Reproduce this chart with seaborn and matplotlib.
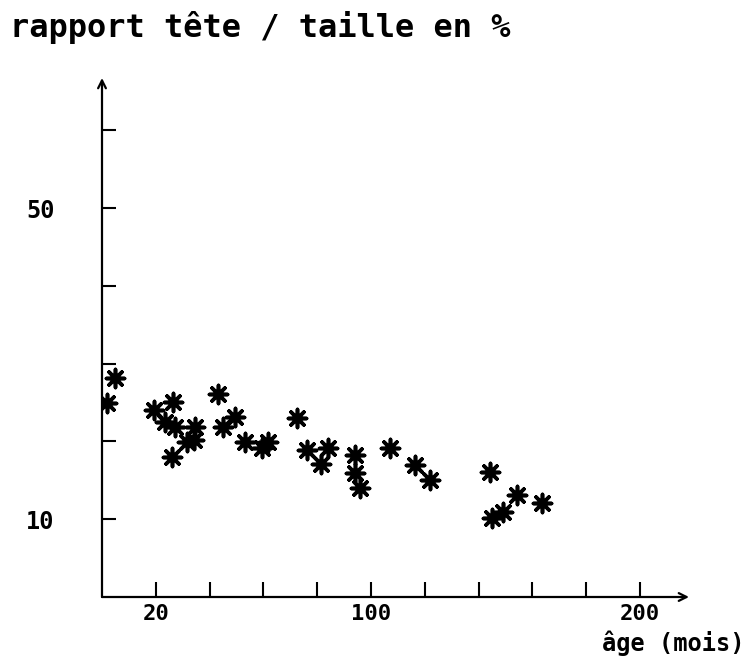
import matplotlib
matplotlib.use("Agg")
import matplotlib.pyplot as plt
import seaborn as sns
import pandas as pd

# age in months vs head/height ratio in percent
age_mois = [1.9, 4.8, 19.3, 26.4, 23.4, 27.1, 34.6, 31.6, 34.2, 26.0,
            43.1, 45.0, 49.4, 53.2, 59.5, 61.7, 72.5, 76.2, 84.0, 81.4,
            94.1, 94.1, 95.9, 107.1, 116.4, 121.9, 144.2, 154.3, 163.6,
            145.0, 149.1]
rapport = [24.9, 28.1, 24.0, 25.1, 22.5, 21.9, 21.9, 19.9, 20.2, 18.0,
           26.1, 21.9, 23.1, 19.9, 19.2, 19.9, 23.0, 18.9, 19.2, 17.1,
           18.3, 15.9, 14.0, 19.2, 17.0, 15.0, 16.1, 13.1, 12.1,
           10.2, 10.9]

x_ticks = list(range(20, 201, 20))
x_labels = ["20", "", "", "", "100", "", "", "", "", "200"]
y_ticks = [10, 20, 30, 40, 50, 60]
y_labels = ["10", "", "", "", "50", ""]

df = pd.DataFrame({"age": age_mois, "rapport": rapport})

sns.set_style("white")
mono = "DejaVu Sans Mono"
plt.rcParams["font.family"] = [mono, "DejaVu Sans"]
plt.rcParams["font.weight"] = "bold"
plt.rcParams["text.color"] = "black"
plt.rcParams["xtick.color"] = "black"
plt.rcParams["ytick.color"] = "black"

fig = plt.figure(figsize=(7.49, 6.6), dpi=100)
ax = fig.add_axes([102 / 749, 63 / 660, 587 / 749, 519 / 660])

# asterisk markers with a solid centre
sns.scatterplot(data=df, x="age", y="rapport", ax=ax, marker=(8, 2, 0),
                s=170, color="black", linewidth=2.6, zorder=3, legend=False)
sns.scatterplot(data=df, x="age", y="rapport", ax=ax, marker="o",
                s=45, color="black", linewidth=0, zorder=3, legend=False)

ax.set_xlim(0, 587 / 2.69)
ax.set_ylim(0, 519 / 7.78)

for s in ax.spines.values():
    s.set_visible(False)

# axes drawn as arrows
ax.annotate("", xy=(1, 0), xytext=(0, 0), xycoords="axes fraction",
            arrowprops=dict(arrowstyle="->", lw=1.6, color="black",
                            mutation_scale=14, shrinkA=0, shrinkB=0))
ax.annotate("", xy=(0, 1), xytext=(0, 0), xycoords="axes fraction",
            arrowprops=dict(arrowstyle="->", lw=1.6, color="black",
                            mutation_scale=14, shrinkA=0, shrinkB=0))

ax.set_xticks(x_ticks)
ax.set_xticklabels(x_labels)
ax.set_yticks(y_ticks)
ax.set_yticklabels(y_labels)
ax.tick_params(axis="x", direction="in", length=11, width=1.5, pad=5,
               labelsize=16, bottom=True, colors="black")
ax.tick_params(axis="y", direction="in", length=10, width=1.5, pad=34,
               labelsize=17, left=True, colors="black")
for lab in ax.get_xticklabels() + ax.get_yticklabels():
    lab.set_fontweight("bold")
ax.set_xlabel("")
ax.set_ylabel("")
ax.grid(False)

fig.text(10 / 749, 1 - 37 / 660, "rapport tête / taille en %",
         fontsize=23, fontweight="bold", va="baseline", ha="left",
         color="black")
fig.text(745 / 749, 1 - 651 / 660, "âge (mois)",
         fontsize=17, fontweight="bold", va="baseline", ha="right",
         color="black")

fig.savefig("out.png", dpi=100)
